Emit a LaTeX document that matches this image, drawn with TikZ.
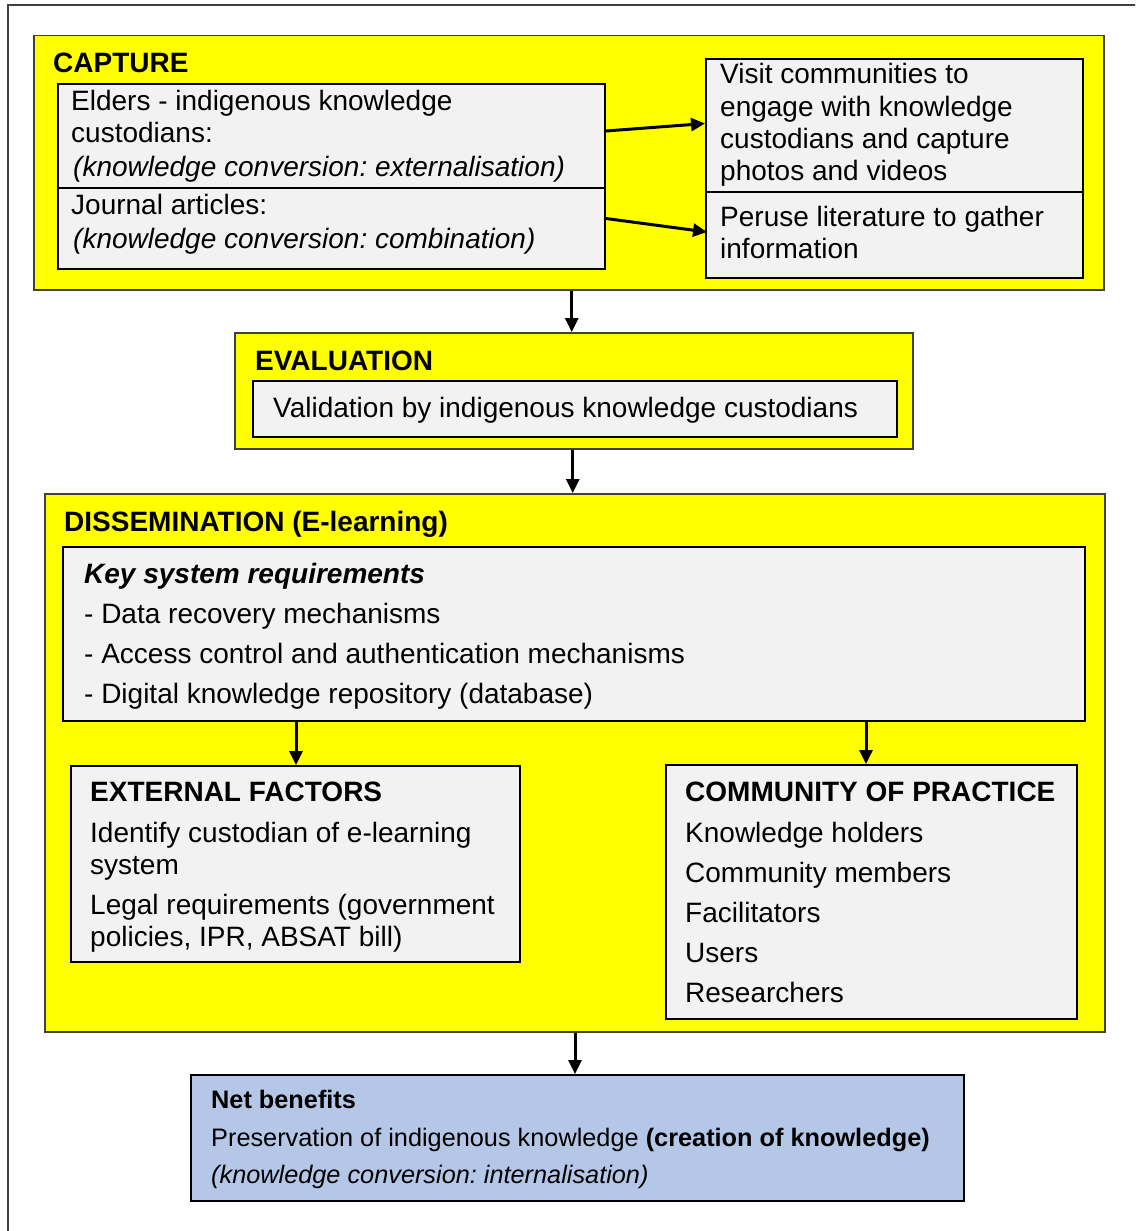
\documentclass[tikz,border=0pt]{standalone}
\usepackage{fontspec}
\setmainfont{Liberation Sans}
\usetikzlibrary{arrows.meta,calc}
\definecolor{stageyellow}{HTML}{FFFF00}
\definecolor{panelgray}{HTML}{F2F2F2}
\definecolor{benefitblue}{HTML}{B4C7E7}
\definecolor{framegray}{HTML}{404040}
\frenchspacing

\begin{document}
\begin{tikzpicture}[x=1pt,y=-1pt,
  stage/.style={draw=framegray, line width=1.5pt, fill=stageyellow, inner sep=0pt, anchor=north west},
  panel/.style={draw=black, line width=2pt, fill=panelgray, inner sep=0pt, anchor=north west},
  benefit/.style={draw=black, line width=2pt, fill=benefitblue, inner sep=0pt, anchor=north west},
  txt/.style={anchor=base west, inner sep=0pt, font=\fontsize{28}{32}\selectfont},
  small/.style={anchor=base west, inner sep=0pt, font=\fontsize{25.3}{30}\selectfont},
  flow/.style={line width=3pt, -{Triangle[length=14pt,width=13pt]}},
]
\clip (0,0) rectangle (1135,1231);
\fill[white] (0,0) rectangle (1135,1231);
% page frame, running off the right and bottom edges
\draw[framegray, line width=1.5pt] (8,1260) -- (8,5) -- (1160,5);

% ---------- CAPTURE ----------
\node[stage, minimum width=1070pt, minimum height=254pt] (capture) at (33,35) {};
\node[txt, font=\fontsize{28}{32}\selectfont\bfseries] (capturetitle) at (53,72) {CAPTURE};
\node[panel, minimum width=547pt, minimum height=104pt] (elders) at (57,83) {};
\node[panel, minimum width=547pt, minimum height=81pt] (journal) at (57,187) {};
\node[txt] (e1) at (71,110) {Elders - indigenous knowledge};
\node[txt] (e2) at (71,142) {custodians:};
\node[txt, font=\fontsize{28}{32}\selectfont\itshape] (e3) at (73,176) {(knowledge conversion: externalisation)};
\node[txt] (j1) at (71,214) {Journal articles:};
\node[txt, font=\fontsize{28}{32}\selectfont\itshape] (j2) at (73,248) {(knowledge conversion: combination)};

\node[panel, minimum width=377pt, minimum height=133pt] (visit) at (705,58) {};
\node[panel, minimum width=377pt, minimum height=86pt] (peruse) at (705,191) {};
\node[txt] (v1) at (720,84) {Visit communities to};
\node[txt] (v2) at (720,116) {engage with knowledge};
\node[txt] (v3) at (720,148) {custodians and capture};
\node[txt] (v4) at (720,180) {photos and videos};
\node[txt] (p1) at (720,226) {Peruse literature to gather};
\node[txt] (p2) at (720,258) {information};

\draw[flow] ($(elders.east)+(0,-5)$) -- ($(visit.west)+(0,-2)$);
\draw[flow] ($(journal.east)+(0,-10)$) -- ($(peruse.west)+(2,-3)$);

% ---------- EVALUATION ----------
\node[stage, minimum width=678pt, minimum height=116pt] (eval) at (234,332) {};
\node[txt, font=\fontsize{28}{32}\selectfont\bfseries] (evaltitle) at (255,370) {EVALUATION};
\node[panel, minimum width=644pt, minimum height=56pt] (valid) at (252,380) {};
\node[txt] (vtext) at (273,417) {Validation by indigenous knowledge custodians};

\draw[flow] ($(capture.south)+(3,0)$) -- ($(eval.north)+(-2,0)$);

% ---------- DISSEMINATION ----------
\node[stage, minimum width=1060pt, minimum height=538pt] (dissem) at (44,493) {};
\node[txt, font=\fontsize{28}{32}\selectfont\bfseries] (dtitle) at (64,531) {DISSEMINATION (E-learning)};
\draw[flow] ($(eval.south)+(-1,0)$) -- ($(dissem.north)+(-2,0)$);

\node[panel, minimum width=1022pt, minimum height=174pt] (keyreq) at (62,546) {};
\node[txt, font=\fontsize{28}{32}\selectfont\bfseries\itshape] (k0) at (84,583) {Key system requirements};
\node[txt] (k1) at (84,623) {- Data recovery mechanisms};
\node[txt] (k2) at (84,663) {- Access control and authentication mechanisms};
\node[txt] (k3) at (84,703) {- Digital knowledge repository (database)};

\node[panel, minimum width=449pt, minimum height=196pt] (external) at (70,765) {};
\node[txt, font=\fontsize{28}{32}\selectfont\bfseries] (x0) at (90,801) {EXTERNAL FACTORS};
\node[txt] (x1) at (90,842) {Identify custodian of e-learning};
\node[txt] (x2) at (90,874) {system};
\node[txt] (x3) at (90,914) {Legal requirements (government};
\node[txt] (x4) at (90,946) {policies, IPR, ABSAT bill)};

\node[panel, minimum width=411pt, minimum height=254pt] (community) at (665,764) {};
\node[txt, font=\fontsize{28}{32}\selectfont\bfseries] (c0) at (685,801) {COMMUNITY OF PRACTICE};
\node[txt] (c1) at (685,842) {Knowledge holders};
\node[txt] (c2) at (685,882) {Community members};
\node[txt] (c3) at (685,922) {Facilitators};
\node[txt] (c4) at (685,962) {Users};
\node[txt] (c5) at (685,1002) {Researchers};

\draw[flow] (296,0 |- keyreq.south) -- (296,0 |- external.north);
\draw[flow] (866,0 |- keyreq.south) -- (866,0 |- community.north);

% ---------- NET BENEFITS ----------
\node[benefit, minimum width=773pt, minimum height=126pt] (net) at (190,1074) {};
\node[small, font=\fontsize{25.3}{30}\selectfont\bfseries] (n0) at (211,1108) {Net benefits};
\node[small] (n1) at (211,1146) {Preservation of indigenous knowledge \textbf{(creation of knowledge)}};
\node[small, font=\fontsize{25.3}{30}\selectfont\itshape] (n2) at (211,1183) {(knowledge conversion: internalisation)};

\draw[flow] (575,0 |- dissem.south) -- (575,0 |- net.north);
\end{tikzpicture}
\end{document}
